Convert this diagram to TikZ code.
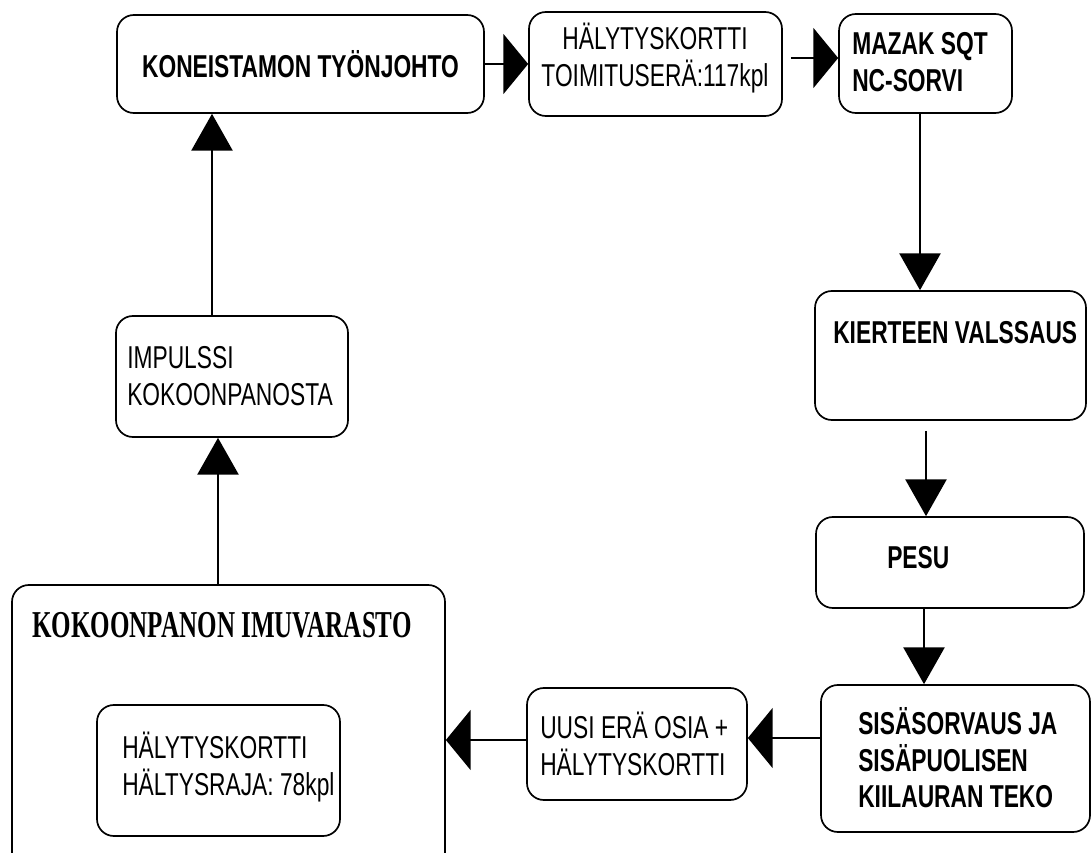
\documentclass[tikz,border=0pt]{standalone}
\usepackage{fontspec}
\setmainfont{Liberation Sans}[FakeStretch=0.72]
\newfontfamily\serifi{Liberation Serif}[FakeStretch=0.66]
\usetikzlibrary{arrows.meta,fit}
\tikzset{
  laatikko/.style={draw,line width=1.2pt,rounded corners=12pt,inner sep=0pt},
  teksti/.style={anchor=west,align=left,inner sep=0pt,font=\fontsize{22.5}{26}\selectfont},
  lteksti/.style={teksti,font=\fontsize{22.5}{26}\selectfont\bfseries},
  nuoli/.style={-{Triangle[length=9.2mm,width=10.3mm]},line width=1.2pt},
  snuoli/.style={-{Triangle[length=6.2mm,width=15mm]},line width=1.2pt},
}

\begin{document}
\begin{tikzpicture}[x=0.025cm,y=-0.025cm]
  \useasboundingbox (0,0) rectangle (1091,853);
  \clip (0,0) rectangle (1091,853);
  \node[laatikko,fit={(117,15) (484,113)}] (tj) {};
  \node[laatikko,fit={(529,12) (782,116)}] (halytys) {};
  \node[laatikko,fit={(839,14) (1012,113)}] (mazak) {};
  \node[laatikko,fit={(815,291) (1086,420)}] (kierre) {};
  \node[laatikko,fit={(816,517) (1084,608)}] (pesu) {};
  \node[laatikko,fit={(821,685) (1090,832)}] (sisa) {};
  \node[laatikko,fit={(527,688) (747,800)}] (uusi) {};
  \node[laatikko,fit={(12,585) (445,870)}] (varasto) {};
  \node[laatikko,fit={(97,705) (340,836)}] (raja) {};
  \node[laatikko,fit={(116,316) (348,437)}] (impulssi) {};

  \node[lteksti,anchor=center] (tj-t) at (tj) {KONEISTAMON TYÖNJOHTO};
  \node[teksti,anchor=center,align=center] (halytys-t) at (655,58) {HÄLYTYSKORTTI\\TOIMITUSERÄ:117kpl};
  \node[lteksti] (mazak-t) at (852,62) {MAZAK SQT\\NC-SORVI};
  \node[lteksti] (kierre-t) at (833,333) {KIERTEEN VALSSAUS};
  \node[lteksti] (pesu-t) at (887,558) {PESU};
  \node[lteksti] (sisa-t) at (858,758) {SISÄSORVAUS JA\\SISÄPUOLISEN\\KIILAURAN TEKO};
  \node[teksti] (uusi-t) at (540,744) {UUSI ERÄ OSIA +\\HÄLYTYSKORTTI};
  \node[inner sep=0pt,font=\serifi\bfseries\fontsize{27}{30}\selectfont] (varasto-t) at (222,625) {KOKOONPANON IMUVARASTO};
  \node[teksti] (raja-t) at (122,767) {HÄLYTYSKORTTI\\HÄLTYSRAJA: 78kpl};
  \node[teksti] (impulssi-t) at (127,376) {IMPULSSI\\KOKOONPANOSTA};

  \draw[snuoli] (tj.east) -- (halytys.west |- tj.east);
  \draw[snuoli,shorten <=2mm] (halytys.east |- 0,58) -- (mazak.west |- 0,58);
  \draw[nuoli] (mazak.south -| 920,0) -- (kierre.north -| 920,0);
  \draw[nuoli,shorten <=2.5mm] (kierre.south -| 926,0) -- (pesu.north -| 926,0);
  \draw[nuoli] (pesu.south -| 924,0) -- (sisa.north -| 924,0);
  \draw[snuoli] (sisa.west |- 0,738) -- (uusi.east |- 0,738);
  \draw[snuoli] (uusi.west |- 0,740) -- (varasto.east |- 0,740);
  \draw[nuoli] (varasto.north -| 218,0) -- (impulssi.south -| 218,0);
  \draw[nuoli] (impulssi.north -| 212,0) -- (tj.south -| 212,0);
\end{tikzpicture}
\end{document}
